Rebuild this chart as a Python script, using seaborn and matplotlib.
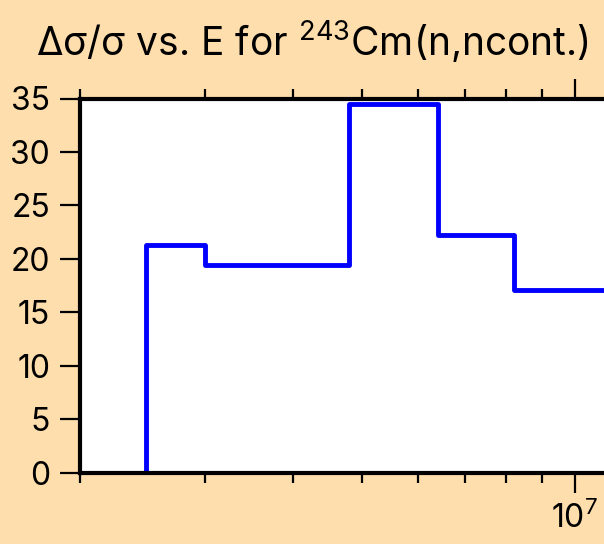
import numpy as np
import pandas as pd
import matplotlib
matplotlib.use("Agg")
import matplotlib.pyplot as plt
import matplotlib.ticker as mticker
import seaborn as sns

# ---- data ----
energy_edges = [2.48e6, 3.0e6, 4.8e6, 6.4e6, 8.2e6, 2.0e7]   # eV, group boundaries
rel_unc = [21.3, 19.4, 34.5, 22.2, 17.1]                     # percent
y_ticks = [0, 5, 10, 15, 20, 25, 30, 35]
title_text = "Δσ/σ vs. E for $^{243}$Cm(n,ncont.)"

# step table (steps-post): start at 0 on the first edge
xs = [energy_edges[0]] + list(energy_edges)
ys = [0.0] + list(rel_unc) + [rel_unc[-1]]
df = pd.DataFrame({"E": xs, "unc": ys})

FONT = "Inter"
sns.set_style("white")
plt.rcParams["font.family"] = [FONT, "DejaVu Sans"]
plt.rcParams["mathtext.fontset"] = "custom"
plt.rcParams["mathtext.rm"] = FONT
plt.rcParams["mathtext.it"] = FONT + ":italic"
plt.rcParams["mathtext.bf"] = FONT + ":bold"

bg = "#FFDEAD"
fig = plt.figure(figsize=(6.04, 5.44), dpi=100, facecolor=bg)
W, H = 604, 544
left_px, right_px, top_px, bot_px = 80, 788, 98.5, 472.7
ax = fig.add_axes([left_px / W, 1 - bot_px / H, (right_px - left_px) / W, (bot_px - top_px) / H])
ax.set_facecolor("white")

sns.lineplot(data=df, x="E", y="unc", ax=ax, estimator=None, sort=False,
             drawstyle="steps-post", color="#0000FF", linewidth=3.5)

ax.set_xscale("log")
ax.set_xlim(2e6, 2e7)
ax.set_ylim(0, 35)
ax.set_yticks(y_ticks)
ax.set_xlabel("")
ax.set_ylabel("")
ax.xaxis.set_major_locator(mticker.LogLocator(base=10))
ax.xaxis.set_minor_locator(mticker.LogLocator(base=10, subs=np.arange(2, 10)))
ax.xaxis.set_minor_formatter(mticker.NullFormatter())

for s in ax.spines.values():
    s.set_linewidth(3.0)
    s.set_color("black")

ax.tick_params(axis="both", which="both", direction="out", color="black",
               width=1.6, labelsize=23, labelcolor="black")
ax.tick_params(axis="x", which="major", length=14.5, pad=6, top=True, bottom=True)
ax.tick_params(axis="x", which="minor", length=7.5, top=True, bottom=True)
ax.tick_params(axis="y", which="major", length=14.5, pad=7, left=True, right=True)

fig.text(36 / W, 1 - 56 / H, title_text, fontsize=28, ha="left", va="baseline",
         color="black")

fig.savefig("out.png", dpi=100, facecolor=bg)
